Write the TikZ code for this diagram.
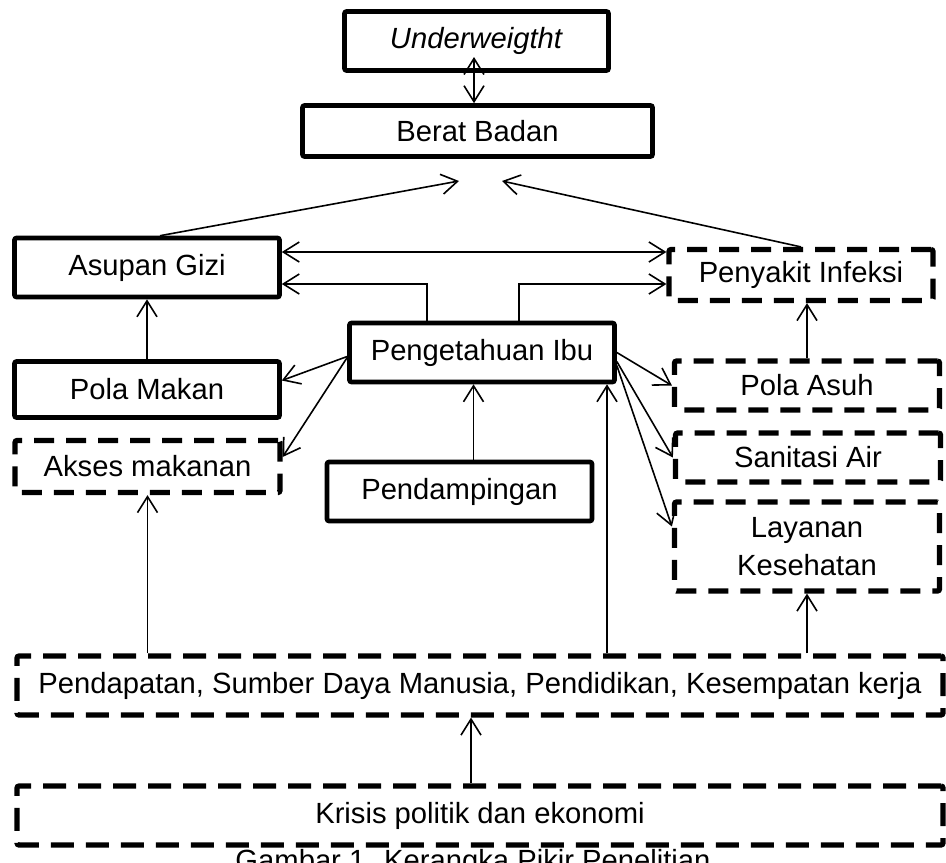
\documentclass[tikz,border=0pt]{standalone}
\usepackage{fontspec}
\setmainfont{Liberation Sans}
\usetikzlibrary{arrows.meta,positioning}

\begin{document}
\begin{tikzpicture}[
    x=0.5pt, y=-0.5pt,
    every node/.style={font=\fontsize{14.6}{19}\selectfont},
    block/.style={draw, line width=2.3pt, rounded corners=1pt, align=center, minimum width=132.5pt, minimum height=29.5pt, inner sep=2pt},
    dashbox/.style={draw, line width=2.6pt, dash pattern=on 10pt off 6pt, rounded corners=1pt, align=center, minimum width=132.5pt, minimum height=24.5pt, inner sep=2pt},
    arrow/.style={-{Straight Barb[length=8pt, width=10pt]}, line width=0.8pt},
    both/.style={{Straight Barb[length=8pt, width=10pt]}-{Straight Barb[length=8pt, width=10pt]}, line width=0.8pt}
]
\useasboundingbox (0,0) rectangle (946,862);

\node[block, minimum width=132pt] (uw) at (476.5,41) {\textit{Underweigtht}};
\node[block, minimum width=175pt, minimum height=25.5pt] (bb) at (477.5,131) {Berat Badan};

\node[block] (gizi) at (147,267.5) {Asupan Gizi};
\node[block, minimum height=28pt] (makan) at (147,389.5) {Pola Makan};
\node[dashbox, minimum height=26pt] (akses) at (147.5,466.5) {Akses makanan};

\node[block] (ibu) at (482,352.5) {Pengetahuan Ibu};
\node[block] (damping) at (459.5,491.5) {Pendampingan};

\node[dashbox, minimum width=132pt, minimum height=25.5pt] (infeksi) at (801,275) {Penyakit Infeksi};
\node[dashbox] (asuh) at (807,385.5) {Pola Asuh};
\node[dashbox] (sanitasi) at (808,457.5) {Sanitasi Air};
\node[dashbox, minimum height=44.5pt] (layanan) at (807,546.5) {Layanan\\Kesehatan};

\node[dashbox, minimum width=463pt, minimum height=29.5pt, dash pattern=on 11.5pt off 6pt] (sosek) at (480,685.5) {Pendapatan, Sumber Daya Manusia, Pendidikan, Kesempatan kerja};

% caption sits under the lowest box
\node[anchor=base] (cap) at (473,870) {Gambar 1. Kerangka Pikir Penelitian};
\node[dashbox, minimum width=463pt, minimum height=29.5pt, dash pattern=on 11.5pt off 6pt] (krisis) at (480,815.5) {Krisis politik dan ekonomi};

\coordinate (uwin) at (474,57);
\coordinate (bbL) at (459,181);
\coordinate (bbR) at (502,181);

\draw[both] (uwin |- bb.north) -- (uwin);
\draw[arrow] ([xshift=6.5pt]gizi.north) -- (bbL);
\draw[arrow] (infeksi.north) -- (bbR);
\draw[both] ([yshift=7.75pt]gizi.east) -- ([yshift=7.75pt]gizi.east -| infeksi.west);
\draw[arrow] ([xshift=-27.5pt]ibu.north) |- ([yshift=-8.25pt]gizi.east);
\draw[arrow] ([xshift=18.5pt]ibu.north) |- ([yshift=-4.5pt]infeksi.west);
\draw[arrow] (makan) -- (gizi);
\draw[arrow] ([yshift=-2pt]ibu.west) -- ([yshift=4.5pt]makan.east);
\draw[arrow] ([yshift=-2.5pt]ibu.west) -- ([yshift=4.75pt]akses.east);
\draw[arrow] (ibu.east) -- (asuh.west);
\draw[arrow] ([yshift=-4.5pt]ibu.east) -- (sanitasi.west);
\draw[arrow] ([yshift=-6.5pt]ibu.east) -- ([yshift=10pt]layanan.west);
\draw[arrow] (asuh.north) -- (asuh.north |- infeksi.south);
\draw[arrow] ([xshift=7pt]damping.north) -- ([xshift=7pt]damping.north |- ibu.south);
\draw[arrow] ([xshift=63.5pt]sosek.north) -- ([xshift=63.5pt]sosek.north |- ibu.south);
\draw[arrow] (akses.south |- sosek.north) -- (akses.south);
\draw[arrow] (layanan.south |- sosek.north) -- (layanan.south);
\draw[arrow] ([xshift=-4.5pt]krisis.north) -- ([xshift=-4.5pt]sosek.south);
\end{tikzpicture}
\end{document}
